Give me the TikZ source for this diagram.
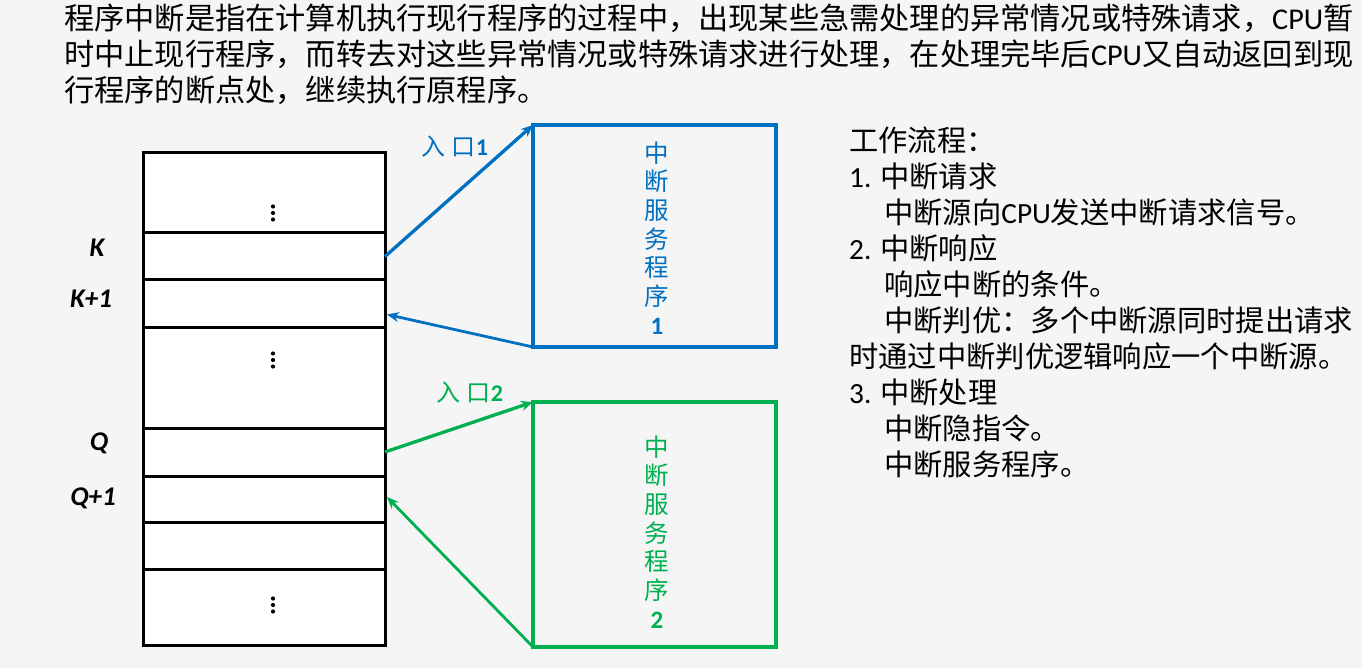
\documentclass[tikz,border=0pt]{standalone}
\usepackage{fontspec}
\setmainfont{Carlito}
\newfontfamily\cjk{Noto Sans CJK SC}
\usetikzlibrary{arrows.meta,calc}
\definecolor{bgc}{RGB}{245,245,245}
\definecolor{sblue}{RGB}{0,112,192}
\definecolor{sgreen}{RGB}{0,176,80}
\begin{document}
\begin{tikzpicture}[x=1pt,y=-1pt,
 cell/.style={draw=black,line width=3pt,fill=white,minimum width=242pt,inner sep=0pt,outer sep=0pt},
 srvbox/.style={line width=3.8pt,minimum width=243pt,inner sep=0pt,outer sep=0pt},
 vchar/.style={font=\fontsize{24.5}{24}\selectfont\cjk,inner sep=0pt},
 vnum/.style={font=\fontsize{25}{24}\selectfont\bfseries,inner sep=0pt},
 addr/.style={font=\fontsize{27}{24}\selectfont\bfseries\itshape,inner sep=0pt},
 para/.style={font=\fontsize{30.2}{36}\selectfont\cjk,anchor=west,inner sep=0pt},
 flow/.style={font=\fontsize{29.3}{36}\selectfont\cjk,anchor=west,inner sep=0pt},
 link/.style={line width=3.3pt,-{Stealth[length=12pt,width=10pt,inset=4pt]}},
 entry/.style={font=\fontsize{24}{24}\selectfont,inner sep=0pt}
]
\fill[bgc] (0,0) rectangle (1362,668);
\useasboundingbox (0,0) rectangle (1362,668);

% top paragraph
\node[para] (p1) at (64,18) {程序中断是指在计算机执行现行程序的过程中，出现某些急需处理的异常情况或特殊请求，{\rmfamily CPU}暂};
\node[para] (p2) at (64,54) {时中止现行程序，而转去对这些异常情况或特殊请求进行处理，在处理完毕后{\rmfamily CPU}又自动返回到现};
\node[para] (p3) at (64,90) {行程序的断点处，继续执行原程序。};

% memory cells
\node[cell,minimum height=80pt] (r1) at (264,193) {};
\node[cell,minimum height=47pt] (r2) at (264,256.5) {};
\node[cell,minimum height=47pt] (r3) at (264,303.5) {};
\node[cell,minimum height=101pt] (r4) at (264,377.5) {};
\node[cell,minimum height=48pt] (r5) at (264,452) {};
\node[cell,minimum height=46pt] (r6) at (264,499) {};
\node[cell,minimum height=47pt] (r7) at (264,545.5) {};
\node[cell,minimum height=76pt] (r8) at (264,607) {};

\foreach \yy in {213,360,605} {
  \fill (273,\yy-6.5) circle (2.1pt);
  \fill (273,\yy) circle (2.1pt);
  \fill (273,\yy+6.5) circle (2.1pt);
}

\node[addr] (lk) at (97,248) {K};
\node[addr] (lk1) at (91,299) {K+1};
\node[addr] (lq) at (99,443) {Q};
\node[addr] (lq1) at (93,498) {Q+1};

% service routine boxes
\node[srvbox,draw=sblue,minimum height=222pt] (b1) at (654.5,236) {};
\node[srvbox,draw=sgreen,minimum height=245pt] (b2) at (654.5,524.5) {};

\foreach \c [count=\i] in {中,断,服,务,程,序} {
  \node[vchar,text=sblue] (s1c\i) at (657,{153+28.6*(\i-1)}) {\c};
  \node[vchar,text=sgreen] (s2c\i) at (657,{447+28.6*(\i-1)}) {\c};
}
\node[vnum,text=sblue] (s1n) at (657,326) {1};
\node[vnum,text=sgreen] (s2n) at (657,620) {2};

% connectors
\draw[link,sblue] (r2.east) -- (b1.north west);
\draw[link,sblue,line width=2.8pt] (b1.south west) -- ($(r3.east)+(2,11)$);
\draw[link,sgreen] (r5.east) -- (b2.north west);
\draw[link,sgreen,line width=2.8pt] (b2.south west) -- ($(r6.east)+(2,-2)$);

\node[entry,text=sblue] (e1) at (455,147) {{\cjk 入\hspace{6pt}口}\textbf{1}};
\node[entry,text=sgreen] (e2) at (470,393) {{\cjk 入\hspace{6pt}口}\textbf{2}};

% work flow text
\node[flow] (f1) at (849,140) {工作流程：};
\node[flow] (f2) at (849,176) {{\rmfamily 1. }中断请求};
\node[flow] (f3) at (884,212) {中断源向{\rmfamily CPU}发送中断请求信号。};
\node[flow] (f4) at (849,248) {{\rmfamily 2. }中断响应};
\node[flow] (f5) at (884,284) {响应中断的条件。};
\node[flow] (f6) at (884,320) {中断判优：多个中断源同时提出请求};
\node[flow] (f7) at (849,356) {时通过中断判优逻辑响应一个中断源。};
\node[flow] (f8) at (849,392) {{\rmfamily 3. }中断处理};
\node[flow] (f9) at (884,428) {中断隐指令。};
\node[flow] (f10) at (884,464) {中断服务程序。};
\end{tikzpicture}
\end{document}
